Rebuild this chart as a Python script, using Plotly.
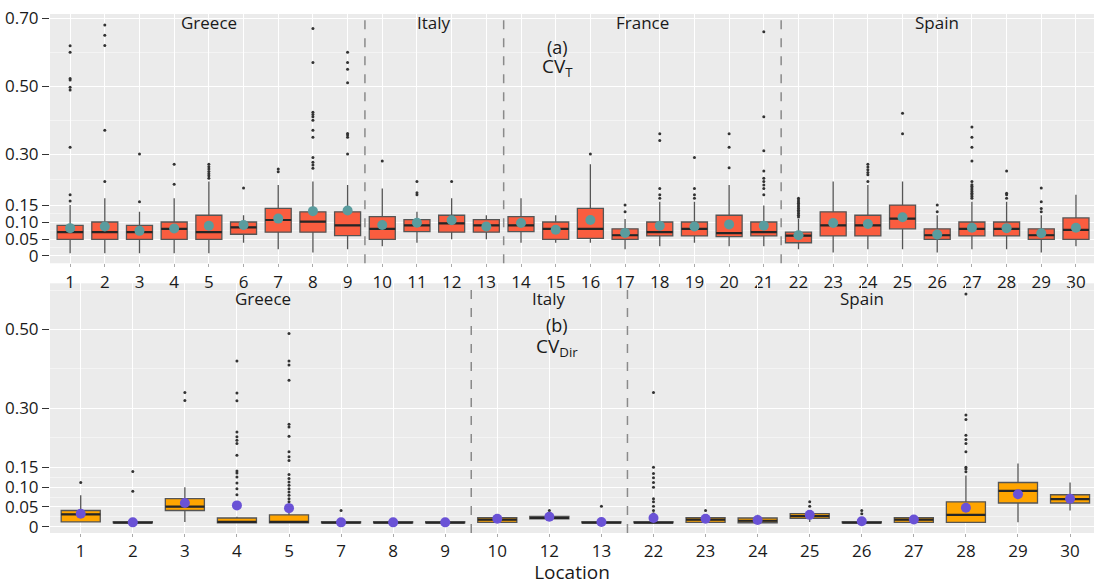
import plotly.graph_objects as go
from plotly.subplots import make_subplots

# ---------------- data: panel (a) CV_T ----------------
top_locs = [str(i) for i in range(1, 31)]
top_country = ["Greece"] * 9 + ["Italy"] * 4 + ["France"] * 8 + ["Spain"] * 9
top_lw = [0.008, 0.008, 0.008, 0.008, 0.008, 0.039, 0.020, 0.010, 0.020, 0.029,
          0.039, 0.049, 0.049, 0.039, 0.039, 0.039, 0.020, 0.029, 0.039, 0.029,
          0.029, 0.020, 0.010, 0.020, 0.020, 0.010, 0.020, 0.020, 0.010, 0.029]
top_q1 = [0.049, 0.049, 0.049, 0.049, 0.049, 0.064, 0.070, 0.070, 0.060, 0.049,
          0.072, 0.070, 0.070, 0.072, 0.049, 0.052, 0.049, 0.059, 0.059, 0.057,
          0.059, 0.039, 0.059, 0.059, 0.080, 0.049, 0.059, 0.059, 0.049, 0.049]
top_med = [0.070, 0.070, 0.070, 0.080, 0.070, 0.084, 0.106, 0.101, 0.090, 0.080,
           0.090, 0.096, 0.090, 0.090, 0.080, 0.080, 0.061, 0.070, 0.080, 0.067,
           0.070, 0.060, 0.090, 0.090, 0.110, 0.061, 0.080, 0.080, 0.061, 0.077]
top_q3 = [0.090, 0.100, 0.090, 0.100, 0.120, 0.100, 0.140, 0.130, 0.130, 0.116,
          0.107, 0.120, 0.107, 0.116, 0.100, 0.140, 0.080, 0.100, 0.100, 0.120,
          0.100, 0.070, 0.130, 0.120, 0.150, 0.080, 0.100, 0.100, 0.080, 0.112]
top_uw = [0.150, 0.170, 0.130, 0.170, 0.219, 0.120, 0.209, 0.219, 0.209, 0.199,
          0.130, 0.170, 0.120, 0.170, 0.120, 0.270, 0.109, 0.160, 0.160, 0.209,
          0.149, 0.109, 0.219, 0.209, 0.219, 0.120, 0.160, 0.160, 0.120, 0.180]
top_mean = [0.082, 0.087, 0.074, 0.081, 0.089, 0.091, 0.110, 0.132, 0.134, 0.091,
            0.098, 0.105, 0.087, 0.097, 0.077, 0.106, 0.068, 0.089, 0.087, 0.093,
            0.089, 0.061, 0.097, 0.094, 0.114, 0.063, 0.083, 0.082, 0.067, 0.083]
top_out = [
    [0.18, 0.162, 0.32, 0.489, 0.497, 0.518, 0.523, 0.60, 0.619],
    [0.219, 0.37, 0.62, 0.65, 0.68],
    [0.16, 0.30],
    [0.211, 0.27],
    [0.229, 0.236, 0.242, 0.249, 0.256, 0.263, 0.270],
    [0.20],
    [0.248, 0.256],
    [0.258, 0.268, 0.276, 0.29, 0.35, 0.37, 0.40, 0.41, 0.417, 0.423, 0.57, 0.67],
    [0.30, 0.35, 0.356, 0.361, 0.51, 0.55, 0.57, 0.60],
    [0.28],
    [0.18, 0.186, 0.219],
    [0.219],
    [],
    [],
    [],
    [0.30],
    [0.13, 0.15],
    [0.17, 0.18, 0.199, 0.34, 0.36],
    [0.17, 0.18, 0.199, 0.29],
    [0.26, 0.32, 0.36],
    [0.18, 0.199, 0.209, 0.219, 0.229, 0.25, 0.31, 0.41, 0.66],
    [0.115, 0.12, 0.125, 0.13, 0.135, 0.14, 0.145, 0.15, 0.155, 0.16, 0.165, 0.17],
    [],
    [0.219, 0.239, 0.246, 0.254, 0.262, 0.270],
    [0.36, 0.42],
    [0.13, 0.15],
    [0.17, 0.175, 0.18, 0.185, 0.19, 0.195, 0.20, 0.205, 0.21, 0.219, 0.28, 0.32, 0.35, 0.38],
    [0.17, 0.18, 0.185, 0.25],
    [0.13, 0.14, 0.16, 0.20],
    [],
]

# ---------------- data: panel (b) CV_Dir ----------------
bot_locs = ["1", "2", "3", "4", "5", "7", "8", "9", "10", "12", "13",
            "22", "23", "24", "25", "26", "27", "28", "29", "30"]
bot_country = ["Greece"] * 8 + ["Italy"] * 3 + ["Spain"] * 9
bot_lw = [0.012, 0.009, 0.012, 0.009, 0.009, 0.009, 0.009, 0.009, 0.010, 0.018,
          0.009, 0.009, 0.010, 0.009, 0.012, 0.009, 0.010, 0.010, 0.011, 0.041]
bot_q1 = [0.012, 0.010, 0.041, 0.010, 0.010, 0.010, 0.010, 0.010, 0.011, 0.020,
          0.010, 0.010, 0.011, 0.010, 0.021, 0.010, 0.011, 0.011, 0.060, 0.060]
bot_med = [0.031, 0.010, 0.051, 0.012, 0.012, 0.010, 0.010, 0.010, 0.018, 0.022,
           0.010, 0.010, 0.018, 0.015, 0.027, 0.010, 0.018, 0.030, 0.091, 0.070]
bot_q3 = [0.041, 0.013, 0.071, 0.022, 0.030, 0.013, 0.013, 0.013, 0.023, 0.026,
          0.013, 0.013, 0.023, 0.022, 0.033, 0.013, 0.023, 0.063, 0.112, 0.081]
bot_uw = [0.080, 0.014, 0.100, 0.025, 0.035, 0.014, 0.014, 0.014, 0.025, 0.030,
          0.014, 0.014, 0.027, 0.030, 0.041, 0.014, 0.025, 0.130, 0.160, 0.112]
bot_mean = [0.033, 0.011, 0.060, 0.054, 0.047, 0.011, 0.011, 0.011, 0.020, 0.025,
            0.012, 0.022, 0.020, 0.017, 0.030, 0.014, 0.018, 0.048, 0.082, 0.071]
bot_out = [
    [0.112],
    [0.09, 0.14],
    [0.32, 0.34],
    [0.081, 0.096, 0.111, 0.126, 0.136, 0.141, 0.181, 0.211, 0.219, 0.228, 0.24, 0.319, 0.339, 0.42],
    [0.045, 0.055, 0.063, 0.071, 0.08, 0.088, 0.096, 0.105, 0.113, 0.122, 0.132, 0.168, 0.177,
     0.19, 0.229, 0.253, 0.26, 0.371, 0.41, 0.42, 0.49],
    [0.041],
    [],
    [],
    [],
    [0.041],
    [0.052],
    [0.033, 0.041, 0.052, 0.063, 0.071, 0.10, 0.112, 0.124, 0.135, 0.151, 0.34],
    [0.041],
    [],
    [0.052, 0.063],
    [0.033, 0.041],
    [],
    [0.139, 0.146, 0.151, 0.19, 0.211, 0.221, 0.232, 0.272, 0.283, 0.59],
    [],
    [],
]

y_ticks = [0, 0.05, 0.10, 0.15, 0.30, 0.50, 0.70]
y_tick_text = ["0", "0.05", "0.10", "0.15", "0.30", "0.50", "0.70"]
y_minor = [0.025, 0.075, 0.125, 0.225, 0.40, 0.60]

FONT = "Open Sans"
BOX_LINE = "#555555"
MED_LINE = "#262626"
TXT = "#1a1a1a"

fig = make_subplots(rows=2, cols=1)


def add_panel(row, locs, lw, q1, med, q3, uw, mean, outs, fill, mean_col):
    fig.add_trace(go.Box(
        x=locs, lowerfence=lw, q1=q1, median=med, q3=q3, upperfence=uw,
        fillcolor=fill, line=dict(color=BOX_LINE, width=1.3),
        whiskerwidth=0, width=0.75, boxpoints=False, showlegend=False,
        hoverinfo="skip"), row=row, col=1)
    # darker, thicker median line drawn as a flat box at the median value
    fig.add_trace(go.Box(
        x=locs, lowerfence=med, q1=med, median=med, q3=med, upperfence=med,
        fillcolor="rgba(0,0,0,0)", line=dict(color=MED_LINE, width=2.2),
        whiskerwidth=0, width=0.75, boxpoints=False, showlegend=False,
        hoverinfo="skip"), row=row, col=1)
    ox, oy = [], []
    for loc, vals in zip(locs, outs):
        for v in vals:
            ox.append(loc)
            oy.append(v)
    fig.add_trace(go.Scatter(
        x=ox, y=oy, mode="markers",
        marker=dict(size=3, color="#333333"), showlegend=False,
        hoverinfo="skip"), row=row, col=1)
    fig.add_trace(go.Scatter(
        x=locs, y=mean, mode="markers",
        marker=dict(size=10, color=mean_col), showlegend=False,
        hoverinfo="skip"), row=row, col=1)


add_panel(1, top_locs, top_lw, top_q1, top_med, top_q3, top_uw, top_mean,
          top_out, "#FA5D3F", "#5A9C9E")
add_panel(2, bot_locs, bot_lw, bot_q1, bot_med, bot_q3, bot_uw, bot_mean,
          bot_out, "#FFA500", "#6A52D6")


def group_info(countries):
    names, centers, bounds = [], [], []
    start = 0
    for i in range(1, len(countries) + 1):
        if i == len(countries) or countries[i] != countries[start]:
            names.append(countries[start])
            centers.append((start + i - 1) / 2)
            if i < len(countries):
                bounds.append(i - 0.5)
            start = i
    return names, centers, bounds


ytick_font = dict(family=FONT, size=17, color=TXT)
xtick_font = dict(family=FONT, size=17, color=TXT)
for row, countries, ytop, xr, yr, dom in [
        (1, top_country, 0.689, [-0.58, 29.52], [-0.0215, 0.7126], [0.5197, 1.0]),
        (2, bot_country, 0.579, [-0.59, 19.46], [-0.016, 0.617], [0.0, 0.4811])]:
    names, centers, bounds = group_info(countries)
    xref = "x" if row == 1 else "x2"
    yref = "y" if row == 1 else "y2"
    for n, c in zip(names, centers):
        fig.add_annotation(x=c, y=ytop, xref=xref, yref=yref, text=n,
                           showarrow=False, font=dict(family=FONT, size=17, color=TXT))
    for b in bounds:
        fig.add_shape(type="line", x0=b, x1=b, y0=0, y1=1, xref=xref,
                      yref=f"{yref} domain",
                      line=dict(color="#8a8a8a", width=1.5, dash="dash"))
    fig.update_xaxes(row=row, col=1, type="category", range=xr,
                     showgrid=True, gridcolor="white", gridwidth=1.2,
                     ticks="outside", ticklen=3, tickcolor="#aaaaaa",
                     tickfont=xtick_font, zeroline=False, showline=False,
                     automargin=False)
    fig.update_yaxes(row=row, col=1, range=yr, domain=dom, tickvals=y_ticks,
                     ticktext=y_tick_text, showgrid=True, gridcolor="white",
                     gridwidth=1.2, ticks="outside", ticklen=7,
                     tickcolor="#333333", tickfont=ytick_font, zeroline=False,
                     showline=False, automargin=False,
                     minor=dict(tickvals=y_minor, showgrid=True,
                                gridcolor="#F4F4F4", gridwidth=0.7, ticks=""))

fig.add_annotation(x=0.486, y=0.615, xref="paper", yref="y", text="(a)",
                   showarrow=False, font=dict(family=FONT, size=18, color=TXT))
fig.add_annotation(x=0.486, y=0.556, xref="paper", yref="y", text="CV<sub>T</sub>",
                   showarrow=False, font=dict(family=FONT, size=19, color=TXT))
fig.add_annotation(x=0.486, y=0.511, xref="paper", yref="y2", text="(b)",
                   showarrow=False, font=dict(family=FONT, size=18, color=TXT))
fig.add_annotation(x=0.486, y=0.455, xref="paper", yref="y2", text="CV<sub>Dir</sub>",
                   showarrow=False, font=dict(family=FONT, size=19, color=TXT))

fig.update_xaxes(row=2, col=1, title=dict(text="Location", standoff=4,
                 font=dict(family=FONT, size=19, color=TXT)))

fig.update_layout(
    width=1094, height=585,
    margin=dict(l=50, r=0, t=14, b=52),
    paper_bgcolor="white", plot_bgcolor="#EBEBEB",
    font=dict(family=FONT),
    boxmode="overlay",
)

fig.write_html("out.html", config={"displayModeBar": False},
               post_script="document.body.style.margin='0';"
                           "document.body.style.overflow='hidden';")
